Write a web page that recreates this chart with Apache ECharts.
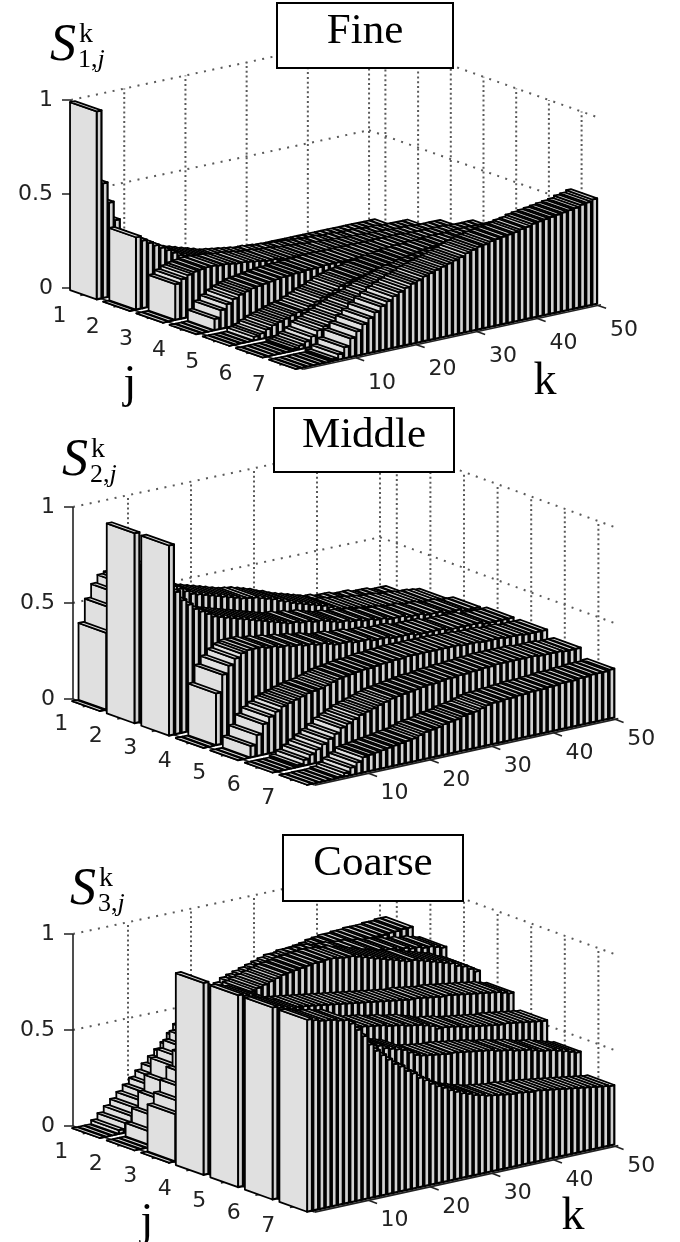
<!DOCTYPE html>
<html>
<head>
<meta charset="utf-8">
<title>S k,j</title>
<style>
  html, body { margin: 0; padding: 0; background: #fff; }
  #chart { width: 680px; height: 1242px; }
</style>
<script src="https://cdn.jsdelivr.net/npm/echarts@6/dist/echarts.min.js"></script>
</head>
<body>
<div id="chart"></div>
<script>
// tick labels
const jTicks = [1, 2, 3, 4, 5, 6, 7];
const kTicks = [10, 20, 30, 40, 50];
const zTicks = [0, 0.5, 1];

// Fine, one row per j, k = 1..50
const fineJ1 = [1,.61,.5,.4,.33,.28,.23,.19,.16,.14,.12,.1,.09,.08,.07,.06,.055,.05,.045,.04,.04,.04,.04,.04,.035,.035,.035,.035,.035,.035,.03,.03,.03,.03,.03,.03,.03,.03,.03,.03,.03,.03,.03,.03,.03,.03,.03,.03,.03,.03];
const fineJ2 = [0,.385,.36,.34,.32,.3,.28,.26,.24,.23,.22,.21,.2,.19,.18,.17,.165,.16,.155,.15,.145,.14,.14,.135,.13,.13,.125,.125,.12,.12,.115,.115,.11,.11,.11,.105,.105,.105,.1,.1,.1,.1,.095,.095,.095,.09,.09,.09,.09,.09];
const fineJ3 = [0,0,.19,.21,.225,.235,.24,.245,.245,.24,.24,.235,.23,.23,.225,.22,.215,.21,.21,.205,.2,.2,.195,.19,.19,.185,.185,.18,.18,.175,.175,.17,.17,.17,.165,.165,.165,.16,.16,.16,.16,.155,.155,.155,.155,.15,.15,.15,.15,.15];
const fineJ4 = [0,0,0,.06,.1,.125,.145,.16,.17,.18,.185,.19,.195,.2,.205,.205,.21,.21,.215,.215,.215,.22,.22,.22,.22,.22,.22,.22,.22,.22,.22,.22,.22,.22,.22,.22,.22,.22,.215,.215,.215,.215,.215,.215,.215,.21,.21,.21,.21,.21];
const fineJ5 = [0,0,0,0,.02,.03,.045,.06,.07,.08,.09,.1,.105,.12,.135,.15,.16,.175,.19,.2,.21,.215,.22,.23,.235,.24,.245,.25,.255,.26,.26,.265,.265,.27,.27,.27,.275,.275,.275,.275,.28,.28,.28,.28,.28,.28,.28,.28,.28,.28];
const fineJ6 = [0,0,0,0,0,.01,.02,.035,.055,.08,.095,.11,.125,.14,.155,.17,.18,.19,.205,.22,.23,.24,.25,.26,.27,.275,.285,.29,.295,.3,.305,.31,.315,.32,.32,.325,.33,.33,.335,.335,.34,.34,.34,.345,.345,.345,.35,.35,.35,.35];
const fineJ7 = [0,0,0,0,0,0,.01,.03,.06,.1,.13,.16,.185,.21,.235,.255,.275,.29,.305,.32,.33,.345,.355,.365,.375,.385,.395,.405,.42,.43,.44,.445,.455,.46,.465,.47,.475,.485,.49,.5,.505,.51,.515,.52,.525,.53,.535,.545,.55,.56];

// Middle
const middleJ1 = [0,.4,.52,.59,.63,.64,.64,.62,.6,.58,.56,.54,.53,.51,.5,.49,.48,.46,.45,.43,.42,.41,.4,.39,.38,.37,.36,.35,.35,.34,.33,.32,.32,.31,.3,.3,.29,.29,.28,.28,.28,.27,.27,.27,.26,.26,.26,.25,.25,.25];
const middleJ2 = [.99,.82,.78,.75,.72,.7,.67,.65,.63,.61,.6,.59,.58,.57,.56,.55,.54,.53,.525,.52,.51,.5,.49,.475,.465,.45,.44,.43,.42,.41,.4,.385,.37,.365,.36,.355,.35,.345,.34,.335,.33,.33,.325,.32,.32,.315,.31,.31,.305,.3];
const middleJ3 = [.99,.74,.69,.66,.63,.61,.59,.57,.56,.55,.54,.53,.52,.51,.5,.49,.48,.47,.46,.45,.45,.44,.44,.43,.43,.42,.41,.4,.4,.39,.39,.38,.38,.37,.37,.36,.36,.36,.35,.35,.35,.34,.34,.34,.33,.33,.33,.32,.32,.32];
const middleJ4 = [0,0,.27,.36,.4,.43,.45,.46,.46,.46,.45,.45,.44,.44,.43,.43,.42,.42,.41,.41,.4,.39,.39,.39,.38,.38,.38,.37,.37,.37,.36,.36,.36,.36,.35,.35,.35,.35,.35,.34,.34,.34,.34,.34,.34,.33,.33,.33,.33,.33];
const middleJ5 = [0,0,.06,.11,.16,.19,.21,.23,.24,.25,.26,.27,.275,.28,.29,.3,.31,.315,.32,.325,.33,.33,.335,.34,.34,.345,.345,.35,.35,.35,.35,.35,.35,.35,.35,.35,.345,.345,.345,.34,.34,.34,.34,.335,.335,.335,.33,.33,.33,.33];
const middleJ6 = [0,0,0,0,.01,.03,.05,.07,.09,.11,.13,.155,.17,.185,.2,.21,.22,.23,.24,.25,.255,.26,.265,.27,.275,.28,.28,.285,.29,.29,.295,.295,.3,.3,.305,.305,.31,.31,.31,.31,.31,.31,.31,.305,.305,.305,.305,.3,.3,.3];
const middleJ7 = [0,0,0,0,0,.005,.02,.04,.06,.08,.085,.09,.095,.1,.105,.11,.115,.12,.13,.14,.145,.15,.16,.165,.17,.18,.185,.19,.2,.21,.215,.215,.22,.22,.225,.225,.23,.23,.23,.234,.235,.24,.24,.24,.245,.245,.25,.25,.25,.255];

// Coarse
const coarseJ1 = [0,0,0,.02,.05,.08,.11,.14,.17,.2,.23,.26,.29,.32,.35,.39,.43,.46,.48,.5,.52,.54,.55,.57,.58,.6,.62,.63,.65,.66,.67,.68,.69,.695,.7,.705,.71,.72,.725,.73,.73,.735,.735,.74,.74,.74,.745,.745,.75,.75];
const coarseJ2 = [0,0,0,.07,.14,.22,.3,.38,.42,.46,.5,.54,.57,.6,.63,.66,.69,.7,.72,.73,.74,.75,.76,.77,.78,.79,.79,.8,.8,.8,.8,.8,.79,.79,.79,.78,.78,.78,.77,.77,.76,.76,.75,.75,.74,.74,.73,.73,.72,.71];
const coarseJ3 = [0,.245,.3,.36,.42,.5,.56,.6,.64,.68,.71,.74,.77,.8,.81,.82,.83,.84,.85,.855,.86,.865,.87,.875,.875,.88,.88,.875,.87,.87,.86,.85,.84,.83,.82,.81,.8,.79,.78,.78,.77,.76,.75,.74,.73,.72,.7,.69,.67,.65];
const coarseJ4 = [1,.97,.95,.93,.9,.88,.86,.84,.83,.81,.8,.79,.785,.78,.775,.77,.765,.76,.755,.75,.745,.74,.735,.73,.725,.72,.715,.71,.705,.7,.695,.69,.685,.68,.68,.675,.67,.665,.66,.66,.655,.65,.645,.64,.635,.63,.625,.62,.61,.6];
const coarseJ5 = [1,.99,.98,.96,.95,.93,.91,.89,.87,.85,.83,.81,.79,.77,.75,.74,.73,.72,.71,.7,.695,.69,.685,.68,.67,.665,.66,.65,.645,.64,.63,.62,.6,.6,.595,.59,.58,.575,.57,.565,.56,.555,.55,.55,.545,.54,.535,.53,.525,.52];
const coarseJ6 = [1,.99,.98,.97,.96,.94,.92,.9,.87,.84,.81,.79,.77,.75,.73,.71,.69,.68,.66,.65,.64,.63,.61,.59,.58,.575,.57,.565,.56,.56,.555,.55,.545,.54,.535,.53,.52,.515,.51,.5,.495,.49,.48,.47,.465,.46,.45,.44,.43,.42];
const coarseJ7 = [1,.99,.98,.975,.97,.96,.955,.93,.89,.85,.8,.76,.73,.7,.67,.65,.62,.6,.57,.55,.525,.505,.49,.47,.455,.44,.43,.417,.41,.4,.395,.39,.385,.38,.38,.375,.37,.37,.365,.36,.355,.35,.345,.34,.335,.33,.325,.32,.315,.31];

// oblique projection of each panel, px per unit
const panels = [
  { name: 'Fine', idx: '1', rows: [fineJ1, fineJ2, fineJ3, fineJ4, fineJ5, fineJ6, fineJ7],
    x0: 71, y0: 288, kStep: 6.12, jStep: 32.7, persp: 0.015, zScale: 188, kRise: 1.31, jDrop: 11.6, kStart: 1.3,
    box: [277, 3, 176, 65], titleY: 32, sym: [50, 46], jk: true, jPos: [130, 385], kPos: [545, 382],
    jOff: [-28, 22], kOff: [26, 25] },
  { name: 'Middle', idx: '2', rows: [middleJ1, middleJ2, middleJ3, middleJ4, middleJ5, middleJ6, middleJ7],
    x0: 73, y0: 699, kStep: 6.3, jStep: 33.6, persp: 0.028, zScale: 192, kRise: 1.35, jDrop: 12.3, kStart: 1.27,
    box: [274, 408, 180, 64], titleY: 436, sym: [62, 461], jk: false,
    jOff: [-29, 19], kOff: [26, 20] },
  { name: 'Coarse', idx: '3', rows: [coarseJ1, coarseJ2, coarseJ3, coarseJ4, coarseJ5, coarseJ6, coarseJ7],
    x0: 73, y0: 1126, kStep: 6.3, jStep: 33.6, persp: 0.028, zScale: 192, kRise: 1.35, jDrop: 12.3, kStart: 1.27,
    box: [283, 835, 180, 66], titleY: 864, sym: [70, 890], jk: true, jPos: [147, 1223], kPos: [573, 1217],
    jOff: [-29, 20], kOff: [26, 20] }
];

const AXIS_FONT = '"DejaVu Sans", sans-serif';
const SERIF = '"Liberation Serif", "Times New Roman", serif';
const BAR_W = 0.4;
const KMAX = 50;

// (j, k, z) -> axis values of the hidden x axis and the visible z axis
function toAxis(p, j, k, z) {
  const spread = p.jStep * (1 + p.persp * (KMAX - k) / KMAX);
  const u = (k - p.kStart) + (j - 0.5) * spread / p.kStep;
  const v = z - ((j - 0.5) * p.jDrop - (k - p.kStart) * p.kRise) / p.zScale;
  return [u, v];
}

function buildBars(rows) {
  const out = [];
  // back to front: low j first, high k first
  rows.forEach((row, r) => {
    for (let i = row.length - 1; i >= 0; i--) out.push([r + 1, i + 1, row[i]]);
  });
  return out;
}

function barRenderer(p) {
  return function (params, api) {
    const j = api.value(0), k = api.value(1), z = api.value(2);
    const pt = (a, b, c) => api.coord(toAxis(p, a, b, c));
    const j0 = j - BAR_W, j1 = j + BAR_W, k0 = k - BAR_W, k1 = k + BAR_W;
    const poly = (points, fill, width) => ({
      type: 'polygon', shape: { points: points }, silent: true,
      style: { fill: fill, stroke: '#000', lineWidth: width, lineJoin: 'round' }
    });
    return {
      type: 'group',
      children: [
        poly([pt(j1, k0, 0), pt(j1, k1, 0), pt(j1, k1, z), pt(j1, k0, z)], '#d2d2d2', 2.2),
        poly([pt(j0, k0, 0), pt(j1, k0, 0), pt(j1, k0, z), pt(j0, k0, z)], '#e0e0e0', 1.8),
        poly([pt(j0, k0, z), pt(j1, k0, z), pt(j1, k1, z), pt(j0, k1, z)], '#e4e4e4', 1.8)
      ]
    };
  };
}

// wall grid and axis lines, [j1, k1, z1, j2, k2, z2, kind]
function buildLines(p) {
  const lo = 0.5, hi = 7.5, ks = p.kStart;
  const out = [];
  kTicks.forEach(k => out.push([lo, k, 0, lo, k, 1, 'v']));
  jTicks.forEach(j => out.push([j, KMAX, 0, j, KMAX, 1, 'v']));
  [0.5, 1].forEach(z => {
    out.push([lo, ks, z, lo, KMAX, z, 'h']);
    out.push([lo, KMAX, z, hi, KMAX, z, 'h']);
  });
  out.push([lo, ks, 0, lo, ks, 1, 'a']);
  out.push([lo, ks, 0, hi, ks, 0, 'a']);
  out.push([hi, ks, 0, hi, KMAX + 0.5, 0, 'a']);
  jTicks.forEach(j => out.push([j, ks, 0, j, ks - 1.2, 0, 'a']));
  kTicks.forEach(k => out.push([hi, k, 0, hi + 0.25, k, 0, 'a']));
  return out;
}

function lineRenderer(p) {
  const data = buildLines(p);
  return function (params, api) {
    const d = data[params.dataIndex];
    const a = api.coord(toAxis(p, d[0], d[1], d[2]));
    const b = api.coord(toAxis(p, d[3], d[4], d[5]));
    const style = d[6] === 'a'
      ? { stroke: '#222', lineWidth: 1.6 }
      : { stroke: '#5a5a5a', lineWidth: 2, lineDash: d[6] === 'v' ? [2, 2.8] : [2, 6.5] };
    return { type: 'line', shape: { x1: a[0], y1: a[1], x2: b[0], y2: b[1] }, style: style, silent: true };
  };
}

function buildTickLabels(p) {
  const out = [];
  jTicks.forEach(j => out.push([j, p.kStart, String(j), p.jOff[0], p.jOff[1]]));
  kTicks.forEach(k => out.push([7.5, k, String(k), p.kOff[0], p.kOff[1]]));
  return out;
}

function labelRenderer(p) {
  const data = buildTickLabels(p);
  return function (params, api) {
    const d = data[params.dataIndex];
    const c = api.coord(toAxis(p, d[0], d[1], 0));
    return {
      type: 'text', silent: true,
      style: { text: d[2], x: c[0] + d[3], y: c[1] + d[4], fill: '#222', align: 'center', verticalAlign: 'middle',
        font: '22px ' + AXIS_FONT }
    };
  };
}

const grid = [], xAxis = [], yAxis = [], series = [], graphic = [];
const V_MIN = -0.5, V_MAX = 1.1;

panels.forEach((p, n) => {
  const uMax = (KMAX - p.kStart) + 7 * p.jStep / p.kStep;
  grid.push({ left: p.x0, top: p.y0 - V_MAX * p.zScale, width: uMax * p.kStep, height: (V_MAX - V_MIN) * p.zScale });
  xAxis.push({ type: 'value', gridIndex: n, min: 0, max: uMax, show: false });
  yAxis.push({
    type: 'value', gridIndex: n, min: V_MIN, max: V_MAX,
    axisLine: { show: false }, splitLine: { show: false },
    axisTick: { show: true, length: 9, customValues: zTicks, lineStyle: { color: '#222', width: 1.5 } },
    axisLabel: { show: true, margin: 18, customValues: zTicks, color: '#222', fontSize: 22, fontFamily: AXIS_FONT,
      formatter: v => String(v) }
  });
  const base = { type: 'custom', coordinateSystem: 'cartesian2d', xAxisIndex: n, yAxisIndex: n,
    animation: false, clip: false, silent: true, progressive: 0 };
  series.push(Object.assign({}, base, { name: p.name + ' grid', z: 1, renderItem: lineRenderer(p),
    data: buildLines(p).map((d, i) => [i]) }));
  series.push(Object.assign({}, base, { name: p.name, z: 2, renderItem: barRenderer(p), data: buildBars(p.rows),
    encode: { x: 1, y: 2 } }));
  series.push(Object.assign({}, base, { name: p.name + ' ticks', z: 3, renderItem: labelRenderer(p),
    data: buildTickLabels(p).map((d, i) => [i]) }));

  // title box
  graphic.push({ type: 'rect', z: 100, shape: { x: p.box[0], y: p.box[1], width: p.box[2], height: p.box[3] },
    style: { fill: '#fff', stroke: '#000', lineWidth: 2 } });
  graphic.push({ type: 'text', z: 101, x: p.box[0] + p.box[2] / 2, y: p.titleY,
    style: { text: p.name, fill: '#000', font: '43px ' + SERIF, textAlign: 'center', textVerticalAlign: 'middle' } });
  // S symbol
  graphic.push({ type: 'text', z: 101, x: p.sym[0], y: p.sym[1],
    style: { text: 'S', fill: '#000', font: 'italic 52px ' + SERIF, textAlign: 'left', textVerticalAlign: 'middle' } });
  graphic.push({ type: 'text', z: 101, x: p.sym[0] + 29, y: p.sym[1] - 11,
    style: { text: 'k', fill: '#000', font: '28px ' + SERIF, textAlign: 'left', textVerticalAlign: 'middle' } });
  graphic.push({ type: 'text', z: 101, x: p.sym[0] + 28, y: p.sym[1] + 14,
    style: { text: '{a|' + p.idx + ',}{b|j}', textAlign: 'left', textVerticalAlign: 'middle',
      rich: { a: { font: '26px ' + SERIF, fill: '#000' }, b: { font: 'italic 26px ' + SERIF, fill: '#000' } } } });
  if (p.jk) {
    graphic.push({ type: 'text', z: 101, x: p.jPos[0], y: p.jPos[1],
      style: { text: 'j', fill: '#000', font: '46px ' + SERIF, textAlign: 'center', textVerticalAlign: 'middle' } });
    graphic.push({ type: 'text', z: 101, x: p.kPos[0], y: p.kPos[1],
      style: { text: 'k', fill: '#000', font: '46px ' + SERIF, textAlign: 'center', textVerticalAlign: 'middle' } });
  }
});

const chart = echarts.init(document.getElementById('chart'));
chart.setOption({
  backgroundColor: '#fff',
  animation: false,
  grid: grid, xAxis: xAxis, yAxis: yAxis, series: series, graphic: graphic
});
</script>
</body>
</html>
